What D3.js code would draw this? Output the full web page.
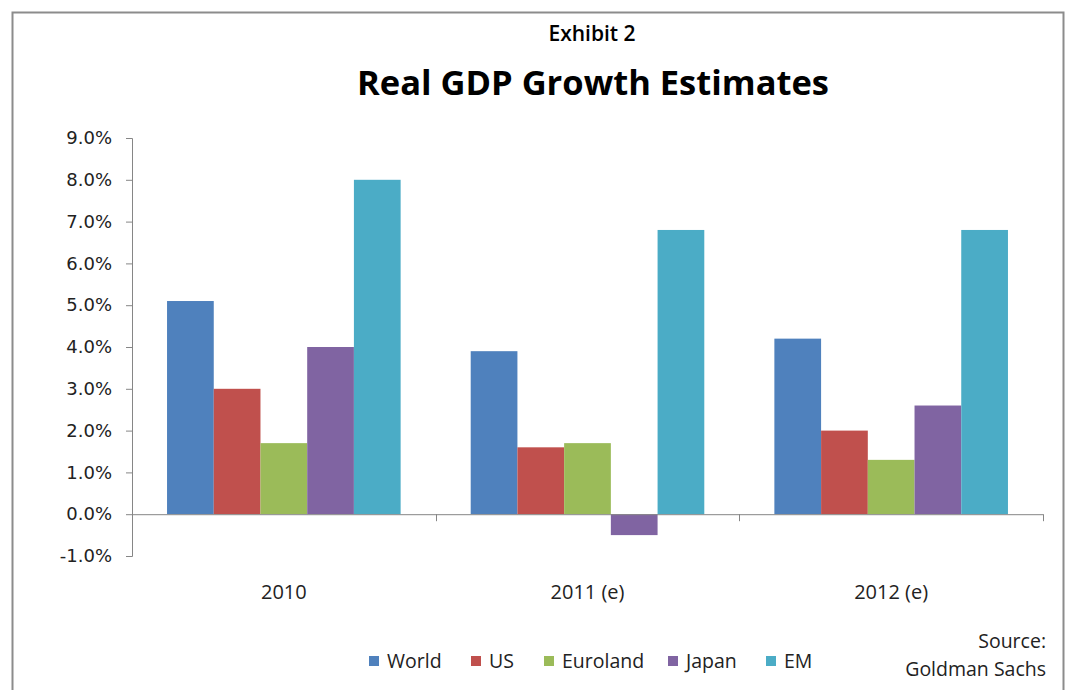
<!DOCTYPE html>
<html>
<head>
<meta charset="utf-8">
<script src="https://cdn.jsdelivr.net/npm/d3@7"></script>
<style>
  body { margin: 0; background: #fff; }
  svg { display: block; }
</style>
</head>
<body>
<div id="viz"></div>
<script>
// data read from the exhibit
const categories = ['2010', '2011 (e)', '2012 (e)'];
const series = ['World', 'US', 'Euroland', 'Japan', 'EM'];
const world = [5.1, 3.9, 4.2];
const us = [3.0, 1.6, 2.0];
const euroland = [1.7, 1.7, 1.3];
const japan = [4.0, -0.5, 2.6];
const em = [8.0, 6.8, 6.8];
const yTicks = [-1, 0, 1, 2, 3, 4, 5, 6, 7, 8, 9];
const colors = ['#4F81BD', '#C0504D', '#9BBB59', '#8064A2', '#4BACC6'];

const values = [world, us, euroland, japan, em];

let W = 1069, H = 690;
let margin = { top: 138, right: 26, bottom: 134, left: 132 },
  width = W - margin.left - margin.right,
  height = H - margin.top - margin.bottom;

let svgRoot = d3.select('#viz').append('svg')
  .attr('width', W)
  .attr('height', H);

// frame
svgRoot.append('path')
  .attr('d', `M12.5,${H} V12.5 H1063.5 V${H}`)
  .attr('fill', 'none')
  .attr('stroke', '#8c8c8c')
  .attr('stroke-width', 2);

svgRoot.append('text')
  .text('Exhibit 2')
  .attr('x', 592)
  .attr('y', 41)
  .attr('text-anchor', 'middle')
  .style('font-family', '"Open Sans", sans-serif')
  .style('font-weight', 600)
  .style('font-size', '21px');

svgRoot.append('text')
  .text('Real GDP Growth Estimates')
  .attr('x', 593)
  .attr('y', 95)
  .attr('text-anchor', 'middle')
  .style('font-family', '"Open Sans", sans-serif')
  .style('font-weight', 700)
  .style('font-size', '34.5px');

let svg = svgRoot.append('g')
  .attr('transform', 'translate(' + margin.left + ',' + margin.top + ')');

let y = d3.scaleLinear().domain([-1, 9]).range([height, 0]);
let x0 = d3.scaleBand().domain(categories).range([0, width]).padding(0);
let x1 = d3.scaleBand().domain(series).range([0, x0.bandwidth()])
  .paddingInner(0).paddingOuter(0.75);

// y axis, hyphen minus like the original
let yAxis = d3.axisLeft(y)
  .tickValues(yTicks)
  .tickSize(6)
  .tickPadding(14)
  .tickFormat(d => d.toFixed(1) + '%');

let yg = svg.append('g').call(yAxis);
yg.select('.domain').attr('stroke', '#868686').attr('d', `M-6,0.5H0.5V${height + 0.5}H-6`);
yg.selectAll('.tick line').attr('stroke', '#868686');
yg.selectAll('.tick text')
  .attr('fill', '#222')
  .style('font-family', '"DejaVu Sans", sans-serif')
  .style('font-size', '18px');

// bars
let groups = svg.selectAll('g.cat')
  .data(categories)
  .enter().append('g')
  .attr('class', 'cat')
  .attr('transform', d => `translate(${x0(d)},0)`);

groups.selectAll('rect')
  .data((c, ci) => series.map((s, si) => ({ s: s, si: si, v: values[si][ci] })))
  .enter().append('rect')
  .attr('x', d => x1(d.s))
  .attr('width', x1.bandwidth())
  .attr('y', d => y(Math.max(0, d.v)))
  .attr('height', d => Math.abs(y(d.v) - y(0)))
  .attr('fill', d => colors[d.si]);

// x axis along zero
let xg = svg.append('g').attr('transform', `translate(0,${y(0)})`);
xg.append('line')
  .attr('x1', 0).attr('x2', width)
  .attr('y1', 0.5).attr('y2', 0.5)
  .attr('stroke', '#868686');
let bounds = categories.map(c => x0(c)).concat([width]);
xg.selectAll('line.tk')
  .data(bounds)
  .enter().append('line')
  .attr('class', 'tk')
  .attr('x1', d => Math.round(d) + 0.5).attr('x2', d => Math.round(d) + 0.5)
  .attr('y1', 0).attr('y2', 7)
  .attr('stroke', '#868686');

svg.selectAll('text.cat-label')
  .data(categories)
  .enter().append('text')
  .attr('class', 'cat-label')
  .text(d => d)
  .attr('x', d => x0(d) + x0.bandwidth() / 2)
  .attr('y', height + 43)
  .attr('text-anchor', 'middle')
  .attr('fill', '#222')
  .style('font-family', '"Open Sans", sans-serif')
  .style('font-size', '20px');

// legend
let legendX = [369, 471, 544, 668, 766];
let legend = svgRoot.selectAll('g.legend')
  .data(series)
  .enter().append('g')
  .attr('class', 'legend')
  .attr('transform', (d, i) => `translate(${legendX[i]},656)`);

legend.append('rect')
  .attr('width', 10).attr('height', 10)
  .attr('fill', (d, i) => colors[i]);

legend.append('text')
  .text(d => d)
  .attr('x', 18)
  .attr('y', 12)
  .attr('fill', '#222')
  .style('font-family', '"Open Sans", sans-serif')
  .style('font-size', '19.5px');

// source note
svgRoot.append('text')
  .attr('text-anchor', 'end')
  .attr('fill', '#222')
  .style('font-family', '"Open Sans", sans-serif')
  .style('font-size', '19.5px')
  .selectAll('tspan')
  .data(['Source:', 'Goldman Sachs'])
  .enter().append('tspan')
  .attr('x', 1046)
  .attr('y', (d, i) => 648 + i * 28)
  .text(d => d);
</script>
</body>
</html>
